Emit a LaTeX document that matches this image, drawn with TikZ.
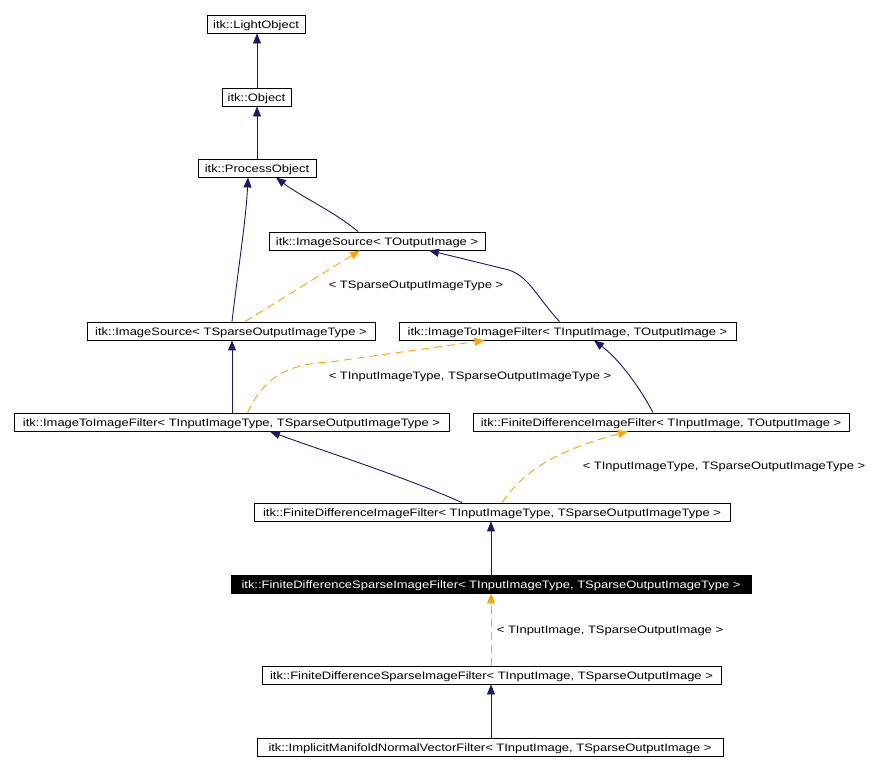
\documentclass[tikz,border=0pt]{standalone}
\usepackage{fontspec}
\setmainfont{Liberation Sans}[FakeStretch=1.2]
\usepackage{tikz}
\usetikzlibrary{arrows.meta,positioning,calc}

\definecolor{inhblue}{HTML}{191970}
\definecolor{tplorange}{HTML}{FFA500}

\begin{document}
\begin{tikzpicture}[
  x=1pt, y=-1pt,
  cls/.style={draw, rectangle, line width=0.9pt, font=\fontsize{10.8}{13}\selectfont,
              inner sep=0pt, minimum height=18pt, text height=10.5pt, text depth=1pt,
              text centered, fill=white},
  cur/.style={cls, fill=black, text=white},
  inh/.style={-{Triangle[length=10pt,width=8pt]}, inhblue, line width=0.9pt},
  tpl/.style={-{Triangle[length=10pt,width=8pt]}, tplorange, line width=0.9pt,
              dash pattern=on 8pt off 5pt},
  lbl/.style={font=\fontsize{10.8}{13}\selectfont, inner sep=0pt}
]
\useasboundingbox (0,0) rectangle (882,771);

% ─── base classes ───
\node[cls, minimum width=98pt]  (lo)  at (256,24)  {itk::LightObject};
\node[cls, minimum width=69pt]  (obj) at (256.5,97) {itk::Object};
\node[cls, minimum width=118pt] (po)  at (257,168) {itk::ProcessObject};

% ─── sources and filters ───
\node[cls, minimum width=216pt] (isrc)  at (377,241)   {itk::ImageSource< TOutputImage >};
\node[cls, minimum width=288pt] (isrcs) at (231,331)   {itk::ImageSource< TSparseOutputImageType >};
\node[cls, minimum width=337pt] (itif)  at (567.5,331) {itk::ImageToImageFilter< TInputImage, TOutputImage >};
\node[cls, minimum width=435pt] (itifs) at (231.5,422) {itk::ImageToImageFilter< TInputImageType, TSparseOutputImageType >};
\node[cls, minimum width=376pt] (fdif)  at (661,422)   {itk::FiniteDifferenceImageFilter< TInputImage, TOutputImage >};
\node[cls, minimum width=476pt] (fdifs) at (492,512)   {itk::FiniteDifferenceImageFilter< TInputImageType, TSparseOutputImageType >};

% ─── sparse filters ───
\node[cur, minimum width=520pt] (fdsifs) at (491,584)   {itk::FiniteDifferenceSparseImageFilter< TInputImageType, TSparseOutputImageType >};
\node[cls, minimum width=459pt] (fdsif)  at (491.5,675) {itk::FiniteDifferenceSparseImageFilter< TInputImage, TSparseOutputImage >};
\node[cls, minimum width=466pt] (imnvf)  at (490,747)   {itk::ImplicitManifoldNormalVectorFilter< TInputImage, TSparseOutputImage >};

% ─── inheritance (blue) ───
\draw[inh] ([xshift=0.5pt]obj.north) -- ([xshift=1pt]lo.south);
\draw[inh] (po.north) -- ([xshift=0.5pt]obj.south);
\draw[inh] ([xshift=-19pt]isrc.north) .. controls (335,212) and (300,196) .. ([xshift=19pt]po.south);
\draw[inh] ([xshift=1pt]isrcs.north) .. controls (238,270) and (246,220) .. ([xshift=-9pt]po.south);
\draw[inh] ([xshift=-8pt]itif.north) .. controls (535,295) and (528,274) .. (505,269) -- ([xshift=52pt]isrc.south);
\draw[inh] ([xshift=0.5pt]itifs.north) -- ([xshift=1pt]isrcs.south);
\draw[inh] ([xshift=-8pt]fdif.north) .. controls (640,388) and (620,360) .. ([xshift=26.5pt]itif.south);
\draw[inh] ([xshift=-30pt]fdifs.north) .. controls (400,475) and (320,450) .. ([xshift=38.5pt]itifs.south);
\draw[inh] (fdsifs.north) -- ([xshift=-1pt]fdifs.south);
\draw[inh] ([xshift=1pt]imnvf.north) -- ([xshift=-0.5pt]fdsif.south);

% ─── template instantiation (orange, dashed) ───
\draw[tpl] ([xshift=14pt]isrcs.north) -- ([xshift=-17pt]isrc.south);
\node[lbl] (l1) at (416,286) {< TSparseOutputImageType >};

\draw[tpl] ([xshift=16pt]itifs.north) .. controls (262,382) and (282,364) .. (330,362) -- ([xshift=-83pt]itif.south);
\node[lbl] (l2) at (470,377) {< TInputImageType, TSparseOutputImageType >};

\draw[tpl] ([xshift=10pt]fdifs.north) .. controls (522,474) and (550,452) .. ([xshift=-33pt]fdif.south);
\node[lbl] (l3) at (724,467) {< TInputImageType, TSparseOutputImageType >};

\draw[tpl] ([xshift=-0.5pt]fdsif.north) -- (fdsifs.south);
\node[lbl] (l4) at (610,631) {< TInputImage, TSparseOutputImage >};

\end{tikzpicture}
\end{document}
